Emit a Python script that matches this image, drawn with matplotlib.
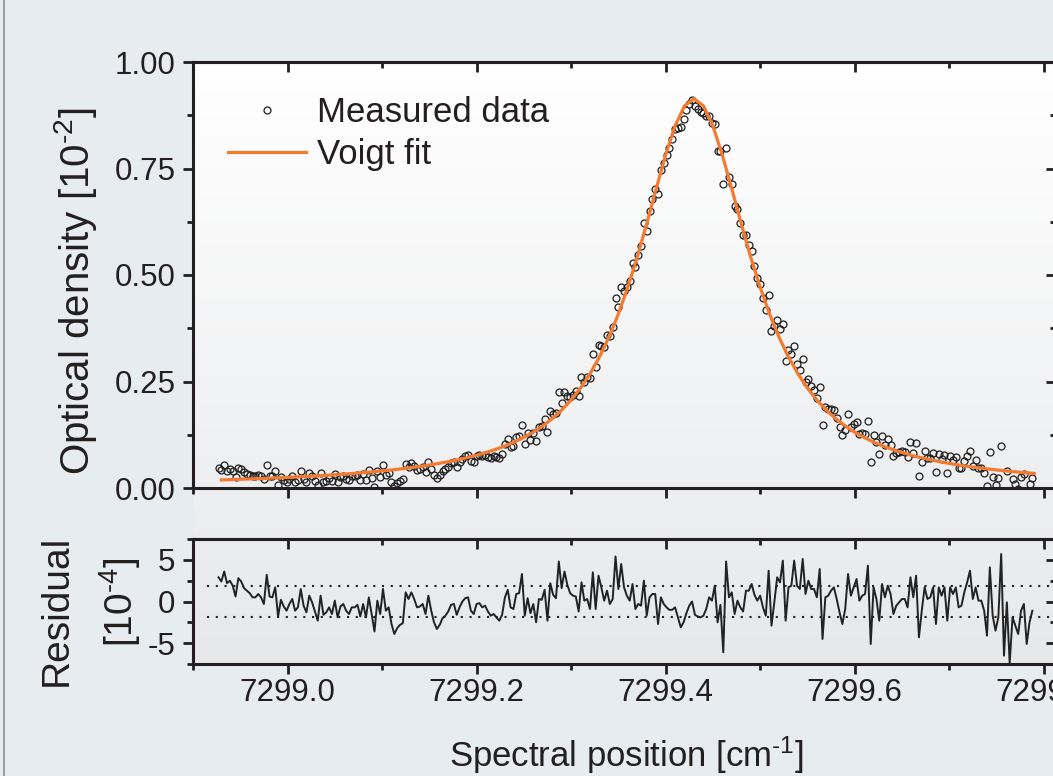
import numpy as np
import matplotlib
matplotlib.use("Agg")
import matplotlib.pyplot as plt
from matplotlib.lines import Line2D
from matplotlib.ticker import MultipleLocator, FormatStrFormatter

plt.rcParams.update({
    "font.family": ["Liberation Sans", "DejaVu Sans"],
    "mathtext.fontset": "custom",
    "mathtext.rm": "Liberation Sans",
    "mathtext.default": "regular",
    "axes.unicode_minus": False,
})

# ---- data ----
scan_start, scan_step = 7298.927, 0.003      # cm^-1, sampling grid of the scan
fit_start, fit_step = 7298.93, 0.01          # grid the fit curve is listed on

# optical density, 1e-2
measured = np.array([
    0.048, 0.043, 0.055, 0.041, 0.045, 0.039, 0.026, 0.048, 0.045, 0.037,
    0.034, 0.031, 0.027, 0.027, 0.031, 0.027, 0.020, 0.055, 0.029, 0.028,
    0.041, 0.006, 0.026, 0.019, 0.014, 0.022, 0.028, 0.015, 0.019, 0.041,
    0.022, 0.014, 0.035, 0.027, 0.016, 0.006, 0.036, 0.013, 0.017, 0.023,
    0.016, 0.032, 0.013, 0.026, 0.029, 0.022, 0.018, 0.027, 0.028, 0.031,
    0.018, 0.033, 0.018, 0.042, 0.023, 0.002, 0.040, 0.025, 0.055, 0.030,
    0.035, 0.015, 0.004, 0.012, 0.017, 0.020, 0.057, 0.050, 0.059, 0.052,
    0.043, 0.045, 0.049, 0.038, 0.061, 0.044, 0.031, 0.024, 0.030, 0.039,
    0.044, 0.050, 0.059, 0.062, 0.050, 0.060, 0.069, 0.074, 0.077, 0.063,
    0.060, 0.074, 0.077, 0.074, 0.078, 0.073, 0.070, 0.074, 0.072, 0.071,
    0.080, 0.104, 0.115, 0.097, 0.098, 0.119, 0.123, 0.149, 0.103, 0.128,
    0.113, 0.128, 0.111, 0.143, 0.146, 0.163, 0.131, 0.181, 0.173, 0.175,
    0.225, 0.199, 0.226, 0.217, 0.214, 0.219, 0.227, 0.217, 0.261, 0.249,
    0.261, 0.259, 0.315, 0.283, 0.335, 0.334, 0.332, 0.358, 0.357, 0.379,
    0.446, 0.424, 0.472, 0.463, 0.472, 0.486, 0.528, 0.519, 0.547, 0.569,
    0.622, 0.603, 0.650, 0.678, 0.703, 0.691, 0.747, 0.763, 0.781, 0.799,
    0.820, 0.843, 0.845, 0.847, 0.867, 0.887, 0.901, 0.911, 0.896, 0.889,
    0.883, 0.880, 0.874, 0.874, 0.856, 0.855, 0.791, 0.791, 0.713, 0.798,
    0.731, 0.713, 0.663, 0.654, 0.621, 0.593, 0.594, 0.571, 0.556, 0.522,
    0.494, 0.478, 0.445, 0.417, 0.452, 0.369, 0.380, 0.394, 0.373, 0.385,
    0.299, 0.325, 0.315, 0.333, 0.291, 0.276, 0.302, 0.250, 0.257, 0.239,
    0.230, 0.212, 0.238, 0.147, 0.190, 0.186, 0.186, 0.184, 0.164, 0.143,
    0.124, 0.137, 0.174, 0.144, 0.150, 0.156, 0.126, 0.128, 0.127, 0.157,
    0.060, 0.125, 0.108, 0.079, 0.121, 0.102, 0.114, 0.101, 0.075, 0.083,
    0.085, 0.086, 0.084, 0.073, 0.107, 0.081, 0.105, 0.029, 0.060, 0.086,
    0.071, 0.071, 0.082, 0.037, 0.079, 0.068, 0.077, 0.036, 0.074, 0.065,
    0.072, 0.047, 0.048, 0.063, 0.074, 0.087, 0.052, 0.065, 0.048, 0.048,
    0.035, 0.004, 0.085, 0.026, 0.008, 0.023, 0.098, -0.024, 0.039, -0.036,
    0.020, 0.009, -0.002, 0.026, 0.033, -0.015, 0.010, 0.024,
])

# residual, 1e-4
residual = np.array([
    2.9, 2.4, 3.6, 2.2, 2.5, 1.9, 0.6, 2.8, 2.4, 1.6,
    1.3, 1.0, 0.5, 0.5, 0.9, 0.5, -0.3, 3.2, 0.6, 0.5,
    1.7, -1.8, 0.2, -0.6, -1.1, -0.3, 0.3, -1.1, -0.7, 1.5,
    -0.5, -1.3, 0.7, -0.1, -1.2, -2.3, 0.7, -1.6, -1.3, -0.7,
    -1.5, 0.1, -1.9, -0.6, -0.3, -1.1, -1.5, -0.7, -0.7, -0.4,
    -1.8, -0.3, -1.9, 0.5, -1.5, -3.6, 0.1, -1.5, 1.5, -1.1,
    -0.7, -2.7, -3.9, -3.2, -2.8, -2.6, 1.1, 0.3, 1.1, 0.3,
    -0.7, -0.6, -0.3, -1.5, 0.7, -1.1, -2.5, -3.3, -2.8, -2.0,
    -1.7, -1.2, -0.4, -0.3, -1.6, -0.7, 0.0, 0.4, 0.5, -1.1,
    -1.5, -0.3, -0.2, -0.7, -0.5, -1.2, -1.7, -1.5, -1.9, -2.3,
    -1.6, 0.5, 1.4, -0.7, -0.9, 0.9, 1.0, 3.3, -1.7, 0.4,
    -1.4, -0.3, -2.5, 0.3, 0.2, 1.4, -2.3, 2.2, 0.8, 0.4,
    4.8, 1.6, 3.6, 2.0, 1.0, 0.7, 0.6, -1.2, 2.3, 0.1,
    0.3, -0.9, 3.5, -0.9, 3.1, 1.7, 0.1, 1.3, -0.3, 0.3,
    5.4, 1.5, 4.5, 1.7, 0.7, 0.1, 2.1, -0.9, -0.3, -0.5,
    2.5, -1.7, 0.5, 0.9, 0.9, -2.7, 0.5, -0.3, -0.7, -1.0,
    -1.0, -0.7, -1.9, -3.1, -2.5, -1.4, -0.5, 0.0, -1.6, -1.8,
    -1.9, -1.7, -0.9, 0.5, 0.1, 1.9, -2.5, -0.4, -6.1, 4.8,
    0.5, 1.1, -1.5, 0.1, -0.7, -1.2, 1.3, 1.3, 2.1, 0.8,
    0.1, 0.7, -0.7, -1.7, 3.7, -2.9, -0.1, 2.9, 2.3, 4.9,
    -2.3, 1.7, 1.9, 4.9, 1.9, 1.5, 5.1, 0.9, 2.5, 1.5,
    1.5, 0.5, 3.9, -4.5, 0.5, 0.7, 1.3, 1.7, 0.3, -1.3,
    -2.7, -0.9, 3.3, 0.7, 1.7, 2.7, 0.1, 0.7, 0.9, 4.3,
    -5.1, 1.7, 0.3, -2.3, 2.1, 0.5, 1.9, 0.9, -1.5, -0.5,
    -0.1, 0.3, 0.3, -0.7, 2.9, 0.5, 3.1, -4.3, -1.1, 1.7,
    0.3, 0.5, 1.7, -2.7, 1.7, 0.7, 1.7, -2.3, 1.7, 0.9,
    1.7, -0.7, -0.5, 1.1, 2.3, 3.7, 0.3, 1.7, 0.1, 0.1,
    -1.1, -4.1, 4.1, -1.7, -3.5, -1.9, 5.7, -6.5, -0.1, -7.4,
    -1.9, -2.9, -3.9, -1.1, -0.3, -5.1, -2.5, -1.1,
])

# Voigt fit, 1e-2
voigt_fit = np.array([
    0.0190, 0.0197, 0.0205, 0.0212, 0.0221, 0.0229, 0.0239, 0.0249, 0.0260, 0.0271,
    0.0283, 0.0297, 0.0311, 0.0326, 0.0343, 0.0361, 0.0380, 0.0401, 0.0424, 0.0449,
    0.0477, 0.0507, 0.0540, 0.0577, 0.0618, 0.0663, 0.0713, 0.0769, 0.0833, 0.0905,
    0.0986, 0.1079, 0.1187, 0.1311, 0.1457, 0.1627, 0.1828, 0.2066, 0.2347, 0.2681,
    0.3076, 0.3541, 0.4085, 0.4712, 0.5423, 0.6203, 0.7021, 0.7816, 0.8501, 0.8971,
    0.9140,
    0.8971, 0.8501, 0.7816, 0.7021, 0.6203, 0.5423, 0.4712, 0.4085, 0.3541, 0.3076,
    0.2681, 0.2347, 0.2066, 0.1828, 0.1627, 0.1457, 0.1311, 0.1187, 0.1079, 0.0986,
    0.0905, 0.0833, 0.0769, 0.0713, 0.0663, 0.0618, 0.0577, 0.0540, 0.0507, 0.0477,
    0.0449, 0.0424, 0.0401, 0.0380, 0.0361, 0.0343,
])

noise_sd = 1.87  # dotted band in residual panel, 1e-4

wavenumber = scan_start + scan_step * np.arange(len(measured))
fit_x = fit_start + fit_step * np.arange(len(voigt_fit))

# ---- layout (pixel boxes of the original figure) ----
W, H = 1053, 776
DARK = "#231f20"
ORANGE = "#f47a30"


def fr(left, top, right, bottom):
    return [left / W, 1 - bottom / H, (right - left) / W, (bottom - top) / H]


def style(a, xlabels, ymaj, ymin, yfmt):
    for s in a.spines.values():
        s.set_linewidth(2.2)
        s.set_color(DARK)
    a.set_facecolor("none")
    a.xaxis.set_major_locator(MultipleLocator(0.2))
    a.xaxis.set_minor_locator(MultipleLocator(0.1))
    a.xaxis.set_major_formatter(FormatStrFormatter("%.1f"))
    a.yaxis.set_major_locator(MultipleLocator(ymaj))
    a.yaxis.set_minor_locator(MultipleLocator(ymin))
    a.yaxis.set_major_formatter(FormatStrFormatter(yfmt))
    a.tick_params(which="both", direction="out", width=2.0, color=DARK,
                  labelsize=22.5, labelcolor=DARK, top=False, right=False)
    a.tick_params(which="major", length=7.2)
    a.tick_params(which="minor", length=4.3)
    a.tick_params(axis="y", pad=5.5)
    a.tick_params(axis="x", pad=3.0, labelbottom=xlabels)
    # inward ticks on top and right, like the original
    sx = a.secondary_xaxis("top")
    sx.xaxis.set_major_locator(MultipleLocator(0.2))
    sx.xaxis.set_minor_locator(MultipleLocator(0.1))
    sx.tick_params(which="both", direction="in", width=2.0, color=DARK,
                   labeltop=False, labelbottom=False)
    sx.tick_params(which="major", length=7.2)
    sx.tick_params(which="minor", length=4.3)
    sx.spines["top"].set_linewidth(2.2)
    sx.spines["top"].set_color(DARK)
    sy = a.secondary_yaxis("right")
    sy.yaxis.set_major_locator(MultipleLocator(ymaj))
    sy.yaxis.set_minor_locator(MultipleLocator(ymin))
    sy.tick_params(which="both", direction="in", width=2.0, color=DARK,
                   labelright=False, labelleft=False)
    sy.tick_params(which="major", length=7.2)
    sy.tick_params(which="minor", length=4.3)
    sy.spines["right"].set_linewidth(2.2)


fig = plt.figure(figsize=(W / 100, H / 100), dpi=100, facecolor="#e6ecef")

# grey gradient behind both panels
bg = fig.add_axes(fr(193, 62, 1060, 664))
bg.set_zorder(-1)
shade = np.linspace(0, 1, 256)[:, None, None]
top_c = np.array([1.0, 1.0, 1.0])
bot_c = np.array([0.905, 0.910, 0.918])
bg.imshow(top_c + (bot_c - top_c) * shade, aspect="auto", extent=(0, 1, 0, 1))
bg.axis("off")

fig.add_artist(Line2D([4 / W, 4 / W], [0, 1], color="#8c8c8c", lw=1.2,
                      transform=fig.transFigure))

ax = fig.add_axes(fr(193, 62, 1056, 488))
axr = fig.add_axes(fr(193, 539, 1056, 664))

xlim = (7298.9, 7299.813)

# ---- upper panel ----
ax.plot(wavenumber, measured, "o", ms=5.0, mfc="none", mec="#1e1e1e", mew=0.9,
        label="Measured data", zorder=2)
ax.plot(fit_x, voigt_fit, color=ORANGE, lw=2.3, label="Voigt fit", zorder=3)
ax.set_xlim(*xlim)
ax.set_ylim(0, 1.0)
style(ax, False, 0.25, 0.125, "%.2f")
leg = ax.legend(loc="upper left", bbox_to_anchor=((228 - 193) / 863, (488 - 96) / 426),
                frameon=False, fontsize=25, handlelength=2.25, handletextpad=0.3,
                labelspacing=0.27, borderpad=0, borderaxespad=0, numpoints=1)
for t in leg.get_texts():
    t.set_color(DARK)

# ---- residual panel ----
axr.plot(wavenumber, residual, color="#222222", lw=1.4, zorder=3)
for level in (noise_sd, -noise_sd):
    axr.axhline(level, xmin=0.016, color=DARK, lw=1.5, ls=(0, (1, 3.2)), zorder=2)
axr.set_xlim(*xlim)
axr.set_ylim(-7.5, 7.5)
style(axr, True, 5, 2.5, "%d")

# ---- axis titles ----
fig.text(76 / W, 1 - 291 / H, r"Optical density [10$^{\text{-}2}$]", rotation=90,
         ha="center", va="center", fontsize=29, color=DARK)
fig.text(57 / W, 1 - 610 / H, "Residual", rotation=90,
         ha="center", va="center", fontsize=28, color=DARK)
fig.text(120 / W, 1 - 602 / H, r"[10$^{\text{-}4}$]", rotation=90,
         ha="center", va="center", fontsize=28, color=DARK)
fig.text(626 / W, 1 - 767 / H, r"Spectral position [cm$^{\text{-}1}$]",
         ha="center", va="baseline", fontsize=25, color=DARK)

fig.savefig("out.png", dpi=100, facecolor=fig.get_facecolor())
